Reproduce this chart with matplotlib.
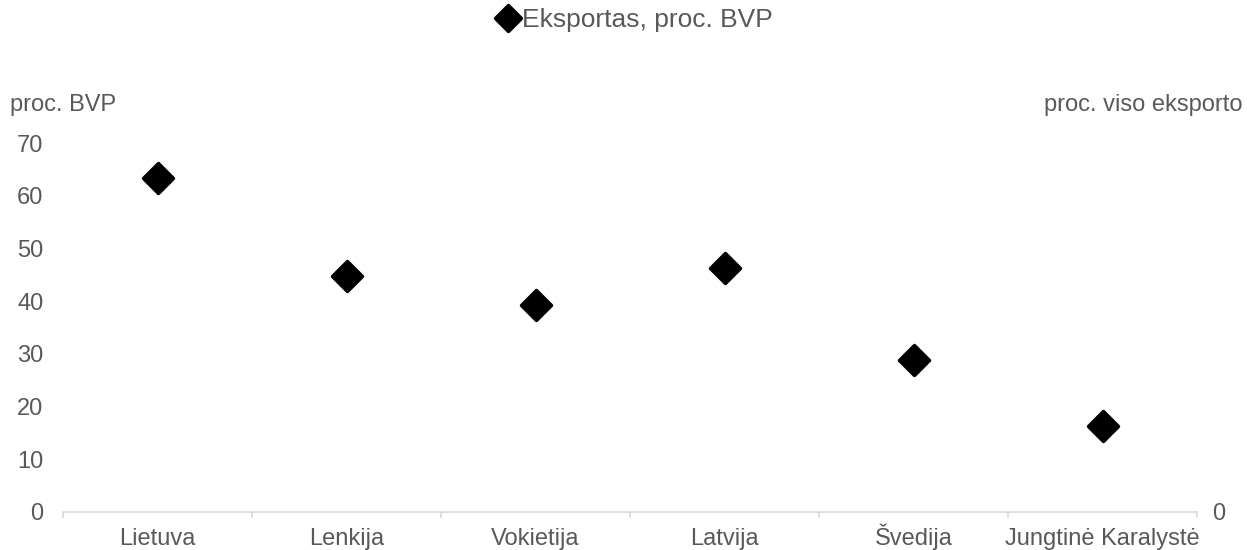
import matplotlib
matplotlib.use("Agg")
import matplotlib.pyplot as plt
from matplotlib.markers import MarkerStyle
import numpy as np

categories = ["Lietuva", "Lenkija", "Vokietija", "Latvija", "Švedija", "Jungtinė Karalystė"]
export_pct_gdp = [63.3, 44.8, 39.3, 46.3, 28.8, 16.3]
y_ticks = [0, 10, 20, 30, 40, 50, 60, 70]
series_name = "Eksportas, proc. BVP"

plt.rcParams['font.family'] = ['Liberation Sans', 'DejaVu Sans']
TXT = '#595959'
AX = '#d9d9d9'
FS = 17

fig = plt.figure(figsize=(12.47, 5.5), dpi=100)
ax = fig.add_axes([63/1247, 1-512/550, (1197-63)/1247, (512-143)/550])

x = np.arange(len(categories)) + 0.5
ax.plot(x, export_pct_gdp, linestyle='none', marker=MarkerStyle('D', joinstyle='round'),
        ms=15, color='black', markeredgecolor='black', markeredgewidth=2.5,
        label=series_name)

ax.set_xlim(0, len(categories))
ax.set_ylim(0, 70)
ax.set_yticks(y_ticks)
ax.set_xticks(x)
ax.set_xticklabels(categories, va='baseline')
ax.set_xticks(np.arange(len(categories)+1), minor=True)
ax.tick_params(axis='x', which='major', length=0, pad=23.5, labelsize=FS, labelcolor=TXT)
ax.tick_params(axis='x', which='minor', length=4.5, color=AX, width=1.2)
ax.tick_params(axis='y', length=0, pad=14, labelsize=FS, labelcolor=TXT)
for s in ['top', 'right', 'left']:
    ax.spines[s].set_visible(False)
ax.spines['bottom'].set_color(AX)
ax.spines['bottom'].set_linewidth(1.2)

ax2 = ax.twinx()
ax2.set_ylim(0, 70)
ax2.set_yticks([0])
ax2.tick_params(axis='y', length=0, pad=11, labelsize=FS, labelcolor=TXT)
for s in ax2.spines.values():
    s.set_visible(False)

fig.text(10/1247, 1-105/550, "proc. BVP", fontsize=FS, color=TXT, ha='left', va='center')
fig.text(1243/1247, 1-105/550, "proc. viso eksporto", fontsize=FS, color=TXT, ha='right', va='center')

leg = fig.legend(loc='center', bbox_to_anchor=(634/1247, 1-20/550), frameon=False,
                 fontsize=19, handlelength=1.0, handletextpad=0.05, markerscale=0.85,
                 borderpad=0, borderaxespad=0)
for t in leg.get_texts():
    t.set_color(TXT)

fig.savefig("out.png", dpi=100)
